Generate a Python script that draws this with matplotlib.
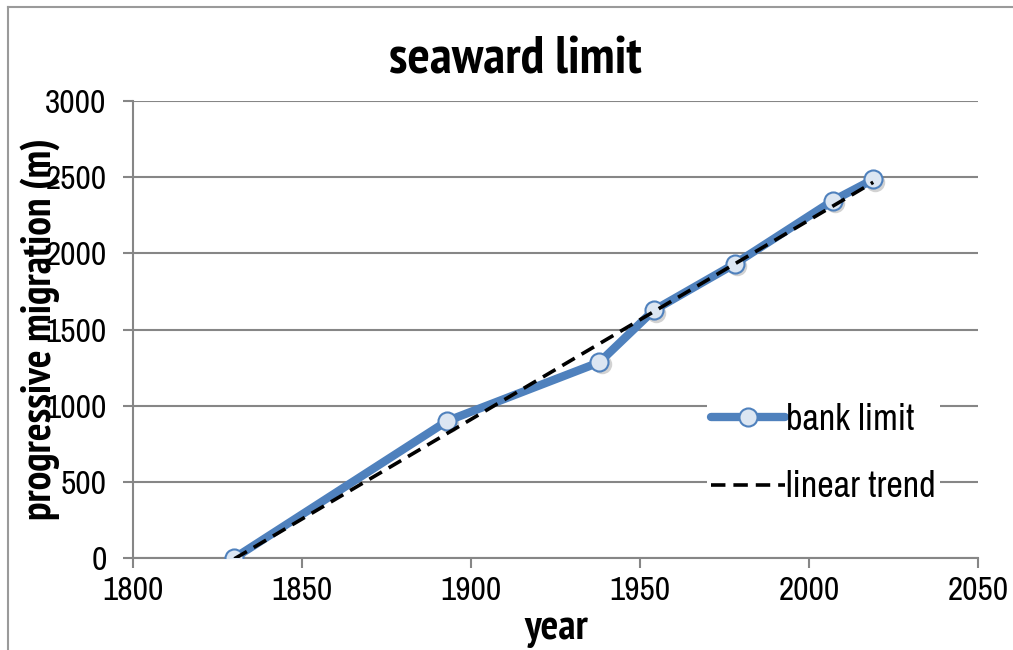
import matplotlib.pyplot as plt
from matplotlib import font_manager
from matplotlib.lines import Line2D
from matplotlib.transforms import offset_copy

# bank limit positions
years = [1830, 1893, 1938, 1954, 1978, 2007, 2019]
migration = [0, 900, 1285, 1625, 1930, 2345, 2485]

# linear trend as printed on the chart
slope = 13.079
intercept = -23940
trend_years = [1830, 2019]

x_ticks = [1800, 1850, 1900, 1950, 2000, 2050]
y_ticks = [0, 500, 1000, 1500, 2000, 2500, 3000]

narrow_candidates = ['Liberation Sans Narrow', 'Arial Narrow', 'Archivo Narrow', 'PT Sans Narrow',
                     'Roboto Condensed', 'Fira Sans Condensed', 'IBM Plex Sans Condensed',
                     'Encode Sans Condensed', 'Asap Condensed', 'Pragati Narrow',
                     'Liberation Sans']
fonts = font_manager.fontManager.ttflist
regular_names = {f.name for f in fonts}
bold_names = {f.name for f in fonts if f.weight in (700, 'bold')}
narrow = [n for n in narrow_candidates if n in regular_names][0]
narrow_bold = [n for n in narrow_candidates if n in bold_names][0]
calibri = [n for n in ['Carlito', 'Lato'] if n in regular_names]
plt.rcParams['font.family'] = [narrow, 'DejaVu Sans']

blue = '#4F81BD'
grid_gray = '#868686'

fig = plt.figure(figsize=(10.13, 6.5), dpi=100)
ax = fig.add_axes([133 / 1013, 1 - 558 / 650, 845 / 1013, 457 / 650])

# outer chart frame (left and top edges visible)
fig.add_artist(Line2D([8 / 1013, 8 / 1013], [0, 1 - 7 / 650], color='#9a9a9a', lw=1.5,
                      transform=fig.transFigure))
fig.add_artist(Line2D([8 / 1013, 1], [1 - 7 / 650, 1 - 7 / 650], color='#9a9a9a', lw=1.5,
                      transform=fig.transFigure))

# soft marker shadow
shadow = offset_copy(ax.transData, fig=fig, x=1.5, y=-1.5, units='points')
ax.plot(years, migration, linestyle='none', marker='o', markersize=14, color='#7f7f7f',
        alpha=0.35, markeredgewidth=0, transform=shadow, zorder=2)

ax.plot(years, migration, color=blue, lw=6, marker='o', markersize=13,
        markerfacecolor='#DCE6F2', markeredgecolor=blue, markeredgewidth=1.5,
        solid_capstyle='round', label='bank limit', zorder=3)

trend = [slope * y + intercept for y in trend_years]
ax.plot(trend_years, trend, color='black', lw=2.6, dashes=(4, 2.2),
        label='linear trend', zorder=4)

ax.set_xlim(x_ticks[0], x_ticks[-1])
ax.set_ylim(y_ticks[0], y_ticks[-1])
ax.set_xticks(x_ticks)
ax.set_yticks(y_ticks)
ax.tick_params(labelsize=24, colors=grid_gray, labelcolor='black', width=1.5, length=7,
               direction='out')
ax.tick_params(axis='y', pad=12)
ax.tick_params(axis='x', pad=6)

ax.grid(axis='y', color=grid_gray, lw=1.5)
ax.set_axisbelow(True)
for side in ['top', 'right']:
    ax.spines[side].set_visible(False)
for side in ['left', 'bottom']:
    ax.spines[side].set_color(grid_gray)
    ax.spines[side].set_linewidth(1.5)

bold_family = [narrow_bold, 'DejaVu Sans']
fig.text(515 / 1013, 1 - 60 / 650, 'seaward limit', ha='center', va='center',
         fontsize=38, fontweight='bold', family=bold_family)
fig.text(556 / 1013, 1 - 629 / 650, 'year', ha='center', va='center',
         fontsize=30, fontweight='bold', family=bold_family)
fig.text(40 / 1013, 1 - 329 / 650, 'progressive migration (m)', ha='center', va='center',
         rotation=90, fontsize=30, fontweight='bold', family=bold_family)

ax.text(667, 2480, 'y = 13,079x - 23940\nR² = 0,995', ha='center', va='center',
        fontsize=16, color='#3D6A9E', family=calibri + ['DejaVu Sans'], linespacing=1.35)

leg = fig.legend(loc='center left', bbox_to_anchor=(707 / 1013, 1 - 453 / 650),
                 fontsize=26, frameon=True, fancybox=False, borderpad=0.1,
                 borderaxespad=0, handlelength=2.05, handletextpad=0.05,
                 labelspacing=0.95)
leg.get_frame().set_facecolor('white')
leg.get_frame().set_edgecolor('none')
leg.get_frame().set_alpha(1)

fig.savefig('out.png', dpi=100)
